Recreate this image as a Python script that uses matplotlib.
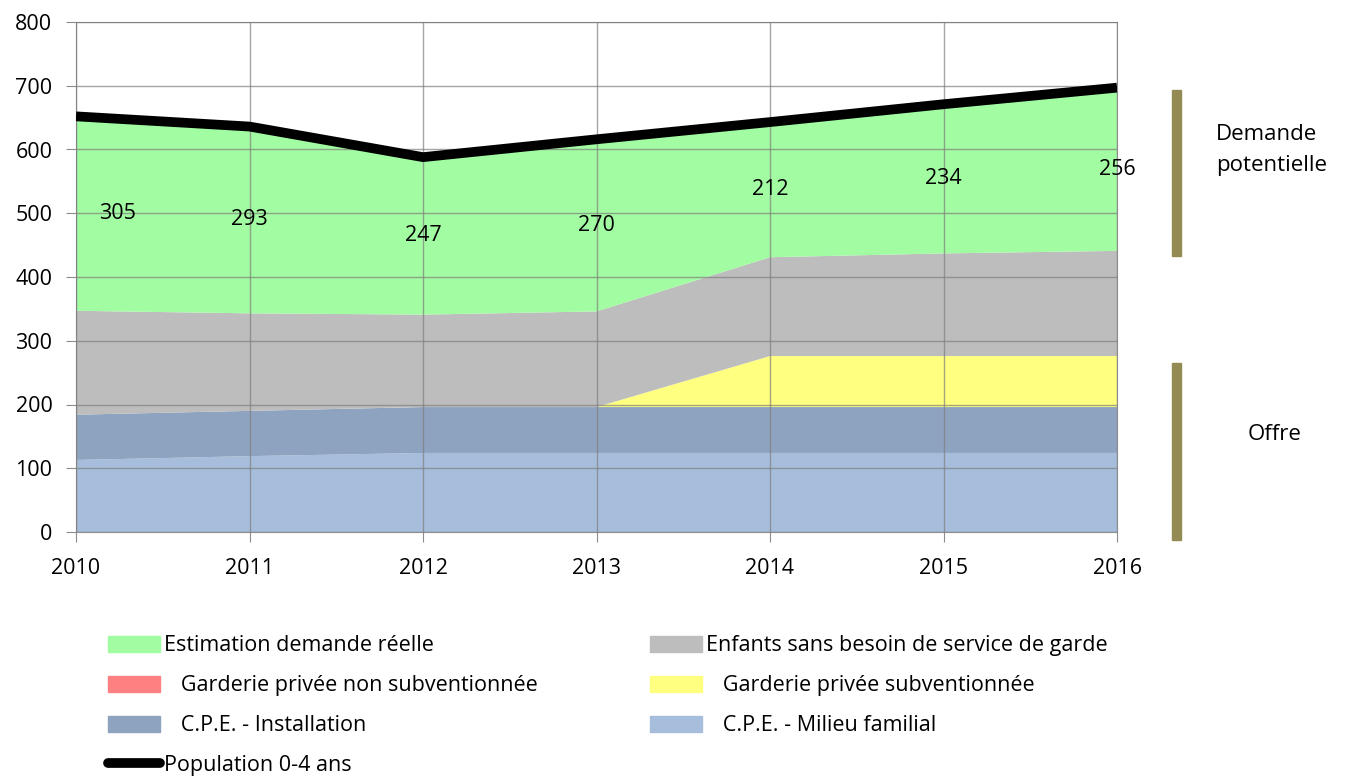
import numpy as np
import matplotlib.pyplot as plt
from matplotlib.patches import Patch
from matplotlib.lines import Line2D

plt.rcParams['font.family'] = ['Open Sans', 'DejaVu Sans']

years = [2010, 2011, 2012, 2013, 2014, 2015, 2016]
cpe_milieu = [113, 119, 124, 124, 124, 124, 124]
cpe_installation = [71, 71, 72, 72, 72, 72, 72]
garderie_subv = [0, 0, 0, 0, 80, 80, 80]
garderie_non_subv = [0, 0, 0, 0, 0, 0, 0]
sans_besoin = [163, 153, 145, 150, 155, 161, 165]
demande_reelle = [305, 293, 247, 270, 212, 234, 256]
population = [652, 636, 588, 616, 643, 671, 697]

colors = {
    "milieu": "#a6bedc",
    "install": "#8da3bf",
    "nonsubv": "#ff8080",
    "subv": "#ffff80",
    "sans": "#bdbdbd",
    "demande": "#a2fca2",
}
fs = 15.5

fig = plt.figure(figsize=(13.61, 7.77), dpi=100)
ax = fig.add_axes([76/1361, 1 - 532/777, (1117-76)/1361, (532-22)/777])

ax.stackplot(years, cpe_milieu, cpe_installation, garderie_non_subv, garderie_subv,
             sans_besoin, demande_reelle,
             colors=[colors["milieu"], colors["install"], colors["nonsubv"],
                     colors["subv"], colors["sans"], colors["demande"]],
             linewidth=0)
ax.plot(years, population, color="black", linewidth=7, solid_capstyle="butt", zorder=5)

# labels in the middle of the green band
base = np.array(cpe_milieu) + np.array(cpe_installation) + np.array(garderie_subv) \
    + np.array(garderie_non_subv) + np.array(sans_besoin)
for i, (yr, v) in enumerate(zip(years, demande_reelle)):
    dx = 42 if i == 0 else 0
    ax.annotate(str(v), (yr, base[i] + v / 2), xytext=(dx, 0), textcoords="offset pixels",
                ha="center", va="center", fontsize=fs, zorder=6)

ax.set_xlim(2010, 2016)
ax.set_ylim(0, 800)
ax.set_xticks(years)
ax.set_yticks(range(0, 801, 100))
ax.grid(True, color="#7f7f7f", alpha=0.7, linewidth=1)
ax.set_axisbelow(False)
for s in ax.spines.values():
    s.set_color("#8c8c8c")
ax.tick_params(axis="both", labelsize=fs, color="#8c8c8c", length=7)
ax.tick_params(axis="x", pad=12)
ax.tick_params(axis="y", pad=10)

# brackets on the right
fig.patches.append(plt.Rectangle((1172/1361, 1 - 256/777), 9/1361, 166/777,
                                 transform=fig.transFigure, color="#948a54"))
fig.patches.append(plt.Rectangle((1172/1361, 1 - 540/777), 9/1361, 177/777,
                                 transform=fig.transFigure, color="#948a54"))
fig.text(1216/1361, 1 - 150/777, "Demande\npotentielle", ha="left", va="center",
         fontsize=fs + 0.5, linespacing=1.65)
fig.text(1275/1361, 1 - 435/777, "Offre", ha="center", va="center", fontsize=fs + 0.5)

handles = [
    Patch(color=colors["demande"]),
    Patch(color=colors["nonsubv"]),
    Patch(color=colors["install"]),
    Line2D([], [], color="black", linewidth=7, solid_capstyle="round"),
    Patch(color=colors["sans"]),
    Patch(color=colors["subv"]),
    Patch(color=colors["milieu"]),
]
labels = [
    "Estimation demande réelle",
    "   Garderie privée non subventionnée",
    "   C.P.E. - Installation",
    "Population 0-4 ans",
    "Enfants sans besoin de service de garde",
    "   Garderie privée subventionnée",
    "   C.P.E. - Milieu familial",
]
fig.legend(handles, labels, ncol=2, loc="upper left", bbox_to_anchor=(89/1361, 1 - 616/777),
           frameon=False, fontsize=fs, handlelength=2.4, handleheight=0.8,
           handletextpad=0.2, labelspacing=0.88, columnspacing=5.2)

fig.savefig("out.png", dpi=100)
